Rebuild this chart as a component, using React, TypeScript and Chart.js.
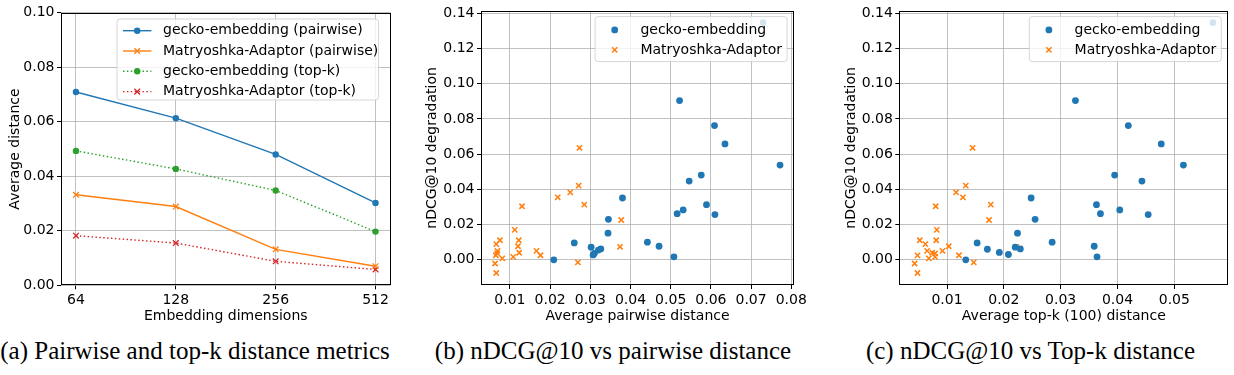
import React, { useEffect, useRef } from 'react';
import { Chart, registerables } from 'chart.js';

Chart.register(...registerables);

// ---------- data ----------
const dims = [64, 128, 256, 512];
const geckoPairwise = [0.0709, 0.0613, 0.048, 0.0302];
const matryoshkaPairwise = [0.0332, 0.0289, 0.0132, 0.007];
const geckoTopk = [0.0493, 0.0427, 0.0348, 0.0197];
const matryoshkaTopk = [0.0182, 0.0155, 0.0088, 0.0058];

const geckoPwX = [0.073, 0.0522, 0.0609, 0.0635, 0.0772, 0.0576, 0.0546, 0.038, 0.0589, 0.0531, 0.0516, 0.061, 0.0345, 0.0344, 0.026, 0.0442, 0.0471, 0.0302, 0.0326, 0.032, 0.031, 0.0307, 0.0209, 0.0508];
const geckoPwY = [0.1347, 0.0904, 0.0762, 0.0658, 0.0538, 0.0481, 0.0447, 0.0351, 0.0313, 0.0283, 0.0262, 0.0257, 0.023, 0.0151, 0.0096, 0.01, 0.0077, 0.0072, 0.0062, 0.0055, 0.0036, 0.0028, 0.0, 0.0017];
const matPwX = [0.0273, 0.0271, 0.025, 0.0219, 0.0285, 0.013, 0.0377, 0.0112, 0.0075, 0.0122, 0.0066, 0.012, 0.0374, 0.0166, 0.0069, 0.0068, 0.0123, 0.0176, 0.0065, 0.0081, 0.0108, 0.0269, 0.0063, 0.0066];
const matPwY = [0.0636, 0.0421, 0.0383, 0.0355, 0.0313, 0.0304, 0.0226, 0.017, 0.0111, 0.0111, 0.0089, 0.0077, 0.0074, 0.0051, 0.0051, 0.0038, 0.004, 0.0026, 0.0026, 0.0008, 0.0017, -0.0015, -0.0021, -0.0075];

const geckoTkX = [0.0568, 0.0326, 0.0419, 0.0477, 0.0516, 0.0395, 0.0443, 0.0248, 0.0363, 0.0404, 0.037, 0.0454, 0.0255, 0.0224, 0.0153, 0.0285, 0.0359, 0.0171, 0.0192, 0.0208, 0.022, 0.0229, 0.0133, 0.0364];
const geckoTkY = [0.1347, 0.0904, 0.0762, 0.0658, 0.0538, 0.0481, 0.0447, 0.0351, 0.0313, 0.0283, 0.0262, 0.0257, 0.023, 0.0151, 0.0096, 0.01, 0.0077, 0.006, 0.0042, 0.003, 0.0072, 0.0062, 0.0, 0.0017];
const matTkX = [0.0145, 0.0133, 0.0116, 0.0128, 0.0177, 0.008, 0.0174, 0.0082, 0.0052, 0.0081, 0.0062, 0.0103, 0.0222, 0.0092, 0.0065, 0.0074, 0.0121, 0.0048, 0.0079, 0.0068, 0.0147, 0.0043, 0.0048, 0.0079];
const matTkY = [0.0636, 0.0421, 0.0383, 0.0355, 0.0313, 0.0304, 0.0226, 0.017, 0.0111, 0.0111, 0.0089, 0.0077, 0.0074, 0.0051, 0.0051, 0.004, 0.0026, 0.0025, 0.0017, 0.0008, -0.0015, -0.0021, -0.0075, 0.0036];

const distYTicks = [0, 0.02, 0.04, 0.06, 0.08, 0.1];
const degYTicks = [0, 0.02, 0.04, 0.06, 0.08, 0.1, 0.12, 0.14];
const pairwiseXTicks = [0.01, 0.02, 0.03, 0.04, 0.05, 0.06, 0.07, 0.08];
const topkXTicks = [0.01, 0.02, 0.03, 0.04, 0.05];

const captions = [
  '(a) Pairwise and top-k distance metrics',
  '(b) nDCG@10 vs pairwise distance',
  '(c) nDCG@10 vs Top-k distance',
];

// ---------- styles ----------
const BLUE = '#1f77b4';
const ORANGE = '#ff7f0e';
const GREEN = '#2ca02c';
const RED = '#d62728';
const FONT = '"DejaVu Sans", sans-serif';
const DOT = [1.5, 2.4];

const toPts = (xs: number[], ys: number[]) => xs.map((x, i) => ({ x, y: ys[i] }));

function drawMarker(ctx: CanvasRenderingContext2D, kind: string, x: number, y: number, r: number, color: string, w: number) {
  ctx.save();
  ctx.setLineDash([]);
  if (kind === 'circle') {
    ctx.beginPath();
    ctx.arc(x, y, r, 0, Math.PI * 2);
    ctx.fillStyle = color;
    ctx.fill();
  } else {
    const d = r * Math.SQRT1_2;
    ctx.beginPath();
    ctx.moveTo(x - d, y - d);
    ctx.lineTo(x + d, y + d);
    ctx.moveTo(x - d, y + d);
    ctx.lineTo(x + d, y - d);
    ctx.strokeStyle = color;
    ctx.lineWidth = w;
    ctx.stroke();
  }
  ctx.restore();
}

const framePlugin = {
  id: 'frame',
  afterDatasetsDraw(chart: any) {
    const { ctx, chartArea: ca } = chart;
    ctx.save();
    ctx.strokeStyle = '#000';
    ctx.lineWidth = 1;
    const l = Math.round(ca.left) + 0.5;
    const t = Math.round(ca.top) + 0.5;
    const r = Math.round(ca.right) - 0.5;
    const b = Math.round(ca.bottom) - 0.5;
    ctx.strokeRect(l, t, r - l, b - t);
    ctx.restore();
  },
};

function makeLegend(items: any[], cfg: any) {
  return {
    id: 'customLegend',
    afterDraw(chart: any) {
      const { ctx, chartArea: ca } = chart;
      const left = cfg.left != null ? ca.left + cfg.left : ca.right - cfg.right - cfg.width;
      const top = ca.top + cfg.top;
      ctx.save();
      ctx.beginPath();
      (ctx as any).roundRect(left, top, cfg.width, cfg.height, 3);
      ctx.fillStyle = 'rgba(255,255,255,0.8)';
      ctx.fill();
      ctx.strokeStyle = 'rgba(204,204,204,0.8)';
      ctx.lineWidth = 1;
      ctx.stroke();
      items.forEach((it, i) => {
        const y = top + cfg.row0 + i * cfg.rowGap;
        if (it.line) {
          ctx.beginPath();
          ctx.setLineDash(it.dash || []);
          ctx.strokeStyle = it.color;
          ctx.lineWidth = 1.4;
          ctx.moveTo(left + cfg.lineFrom, y);
          ctx.lineTo(left + cfg.lineTo, y);
          ctx.stroke();
          ctx.setLineDash([]);
        }
        drawMarker(ctx, it.marker, left + cfg.markerX, y, it.r, it.color, it.w || 1.3);
        ctx.fillStyle = '#000';
        ctx.font = `14px ${FONT}`;
        ctx.textBaseline = 'middle';
        ctx.textAlign = 'left';
        ctx.fillText(it.label, left + cfg.textX, y);
      });
      ctx.restore();
    },
  };
}

function axis(opts: {
  min: number; max: number; ticks: number[]; fmt: (v: number, i: number) => string;
  title: string; titlePad: number; fit: number; isX: boolean;
}) {
  const { min, max, ticks, fmt, title, titlePad, fit, isX } = opts;
  return {
    type: 'linear',
    min,
    max,
    afterBuildTicks: (s: any) => {
      s.ticks = ticks.map((v) => ({ value: v }));
    },
    afterFit: (s: any) => {
      if (isX) s.height = fit;
      else s.width = fit;
    },
    ticks: {
      callback: (v: any, i: number) => fmt(v, i),
      font: { size: 14, family: FONT },
      color: '#000',
      padding: isX ? 3 : 2.5,
      autoSkip: false,
      maxRotation: 0,
      minRotation: 0,
    },
    grid: {
      color: '#b0b0b0',
      lineWidth: 0.8,
      tickColor: '#000',
      tickLength: 4,
      tickWidth: 1,
      drawTicks: true,
    },
    border: { display: false },
    title: {
      display: true,
      text: title,
      font: { size: 14, family: FONT },
      color: '#000',
      padding: isX ? { top: 0, bottom: titlePad } : { top: titlePad, bottom: 0 },
    },
  };
}

const baseOptions = {
  responsive: false,
  maintainAspectRatio: false,
  animation: false,
  devicePixelRatio: 1,
  events: [],
  plugins: { legend: { display: false }, tooltip: { enabled: false }, title: { display: false } },
};

function configA() {
  const logDims = dims.map((d) => Math.log2(d));
  const series = (vals: number[]) => logDims.map((x, i) => ({ x, y: vals[i] }));
  return {
    type: 'line',
    data: {
      datasets: [
        { label: 'gecko-embedding (pairwise)', data: series(geckoPairwise), borderColor: BLUE, borderWidth: 1.4, pointStyle: 'circle', pointRadius: 3.2, pointBackgroundColor: BLUE, pointBorderWidth: 0, fill: false, tension: 0 },
        { label: 'Matryoshka-Adaptor (pairwise)', data: series(matryoshkaPairwise), borderColor: ORANGE, borderWidth: 1.4, pointStyle: 'crossRot', pointRadius: 4, pointBorderColor: ORANGE, pointBorderWidth: 1.3, fill: false, tension: 0 },
        { label: 'gecko-embedding (top-k)', data: series(geckoTopk), borderColor: GREEN, borderWidth: 1.4, borderDash: DOT, pointStyle: 'circle', pointRadius: 3.2, pointBackgroundColor: GREEN, pointBorderWidth: 0, fill: false, tension: 0 },
        { label: 'Matryoshka-Adaptor (top-k)', data: series(matryoshkaTopk), borderColor: RED, borderWidth: 1.4, borderDash: DOT, pointStyle: 'crossRot', pointRadius: 4, pointBorderColor: RED, pointBorderWidth: 1.3, fill: false, tension: 0 },
      ],
    },
    options: {
      ...baseOptions,
      layout: { padding: { top: 12.7, right: 9.5, bottom: 0, left: 0 } },
      scales: {
        x: axis({ min: 5.85, max: 9.15, ticks: logDims, fmt: (_v, i) => String(dims[i]), title: 'Embedding dimensions', titlePad: 5, fit: 44.7, isX: true }),
        y: axis({ min: 0, max: 0.1, ticks: distYTicks, fmt: (v) => Number(v).toFixed(2), title: 'Average distance', titlePad: 6.6, fit: 61, isX: false }),
      },
    },
    plugins: [
      framePlugin,
      makeLegend(
        [
          { label: 'gecko-embedding (pairwise)', color: BLUE, marker: 'circle', line: true, r: 3.2 },
          { label: 'Matryoshka-Adaptor (pairwise)', color: ORANGE, marker: 'x', line: true, r: 4 },
          { label: 'gecko-embedding (top-k)', color: GREEN, marker: 'circle', line: true, dash: DOT, r: 3.2 },
          { label: 'Matryoshka-Adaptor (top-k)', color: RED, marker: 'x', line: true, dash: DOT, r: 4 },
        ],
        { left: 56, top: 6.3, width: 261.5, height: 81, row0: 11.7, rowGap: 20.3, lineFrom: 6, lineTo: 34.4, markerX: 20.2, textX: 46 }
      ),
    ],
  };
}

function scatterConfig(gx: number[], gy: number[], mx: number[], my: number[], xMin: number, xMax: number, xTicks: number[], xTitle: string, yTitlePad: number, yFit: number, padRight: number) {
  return {
    type: 'scatter',
    data: {
      datasets: [
        { label: 'gecko-embedding', data: toPts(gx, gy), pointStyle: 'circle', pointRadius: 3.4, backgroundColor: BLUE, borderColor: BLUE, borderWidth: 0 },
        { label: 'Matryoshka-Adaptor', data: toPts(mx, my), pointStyle: 'crossRot', pointRadius: 3.7, borderColor: ORANGE, backgroundColor: ORANGE, borderWidth: 1.5 },
      ],
    },
    options: {
      ...baseOptions,
      layout: { padding: { top: 10, right: padRight, bottom: 0, left: 0 } },
      scales: {
        x: axis({ min: xMin, max: xMax, ticks: xTicks, fmt: (v) => Number(v).toFixed(2), title: xTitle, titlePad: 5, fit: 45, isX: true }),
        y: axis({ min: -0.0143, max: 0.1413, ticks: degYTicks, fmt: (v) => Number(v).toFixed(2), title: 'nDCG@10 degradation', titlePad: yTitlePad, fit: yFit, isX: false }),
      },
    },
    plugins: [
      framePlugin,
      makeLegend(
        [
          { label: 'gecko-embedding', color: BLUE, marker: 'circle', r: 3.4 },
          { label: 'Matryoshka-Adaptor', color: ORANGE, marker: 'x', r: 3.7, w: 1.5 },
        ],
        { right: 7, top: 5.7, width: 192, height: 45, row0: 13.3, rowGap: 20, markerX: 19.6, textX: 45.3 }
      ),
    ],
  };
}

function ChartPanel({ left, width, height, makeConfig }: { left: number; width: number; height: number; makeConfig: () => any }) {
  const ref = useRef<HTMLCanvasElement>(null);
  useEffect(() => {
    const chart = new Chart(ref.current as HTMLCanvasElement, makeConfig());
    return () => chart.destroy();
  }, []);
  return (
    <div style={{ position: 'absolute', left, top: 0, width, height }}>
      <canvas ref={ref} width={width} height={height} style={{ width, height, display: 'block' }} />
    </div>
  );
}

const captionCenters = [195, 613, 1030.5];

export default function App() {
  return (
    <div style={{ position: 'fixed', left: 0, top: 0, width: 1234, height: 375, background: '#fff', overflow: 'hidden' }}>
      <ChartPanel left={0} width={400} height={330} makeConfig={configA} />
      <ChartPanel
        left={405}
        width={405}
        height={330}
        makeConfig={() => scatterConfig(geckoPwX, geckoPwY, matPwX, matPwY, 0.0028, 0.0807, pairwiseXTicks, 'Average pairwise distance', 19, 76, 14)}
      />
      <ChartPanel
        left={820}
        width={414}
        height={330}
        makeConfig={() => scatterConfig(geckoTkX, geckoTkY, matTkX, matTkY, 0.0016, 0.0595, topkXTicks, 'Average top-k (100) distance', 23.3, 79.3, 5.7)}
      />
      {captions.map((c, i) => (
        <div
          key={c}
          style={{
            position: 'absolute',
            left: captionCenters[i] - 220,
            width: 440,
            top: 338,
            textAlign: 'center',
            fontFamily: '"Liberation Serif", "Times New Roman", serif',
            fontSize: 25,
            lineHeight: '25px',
            color: '#000',
            whiteSpace: 'nowrap',
          }}
        >
          {c}
        </div>
      ))}
    </div>
  );
}
